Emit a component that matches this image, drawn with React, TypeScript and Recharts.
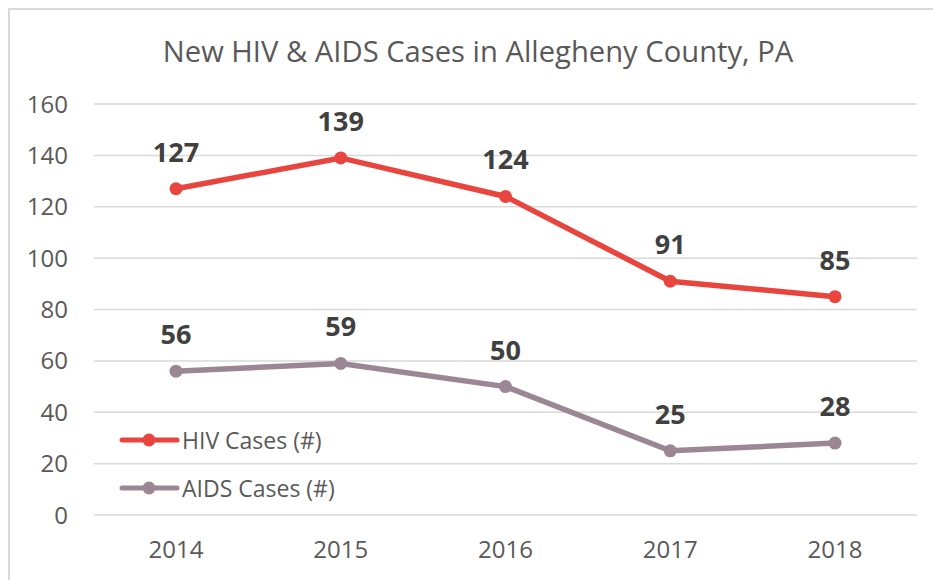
import React from "react";
import { LineChart, Line, XAxis, YAxis, CartesianGrid, LabelList } from "recharts";

const years = ["2014", "2015", "2016", "2017", "2018"];
const hivCases = [127, 139, 124, 91, 85];
const aidsCases = [56, 59, 50, 25, 28];
const yTicks = [0, 20, 40, 60, 80, 100, 120, 140, 160];
const seriesNames = ["HIV Cases (#)", "AIDS Cases (#)"];

const data = years.map((y, i) => ({ year: y, hiv: hivCases[i], aids: aidsCases[i] }));

const FONT = "'Open Sans', sans-serif";
const RED = "#E8453F";
const MAUVE = "#9B8793";
const seriesColors = [RED, MAUVE];

export default function App() {
  return (
    <div style={{ position: "absolute", left: 0, top: 0, width: 933, height: 580, background: "#fff" }}>
      <div
        style={{
          position: "absolute",
          left: 8,
          top: 8,
          right: 0,
          bottom: 0,
          borderLeft: "2px solid #D9D9D9",
          borderTop: "2px solid #D9D9D9",
        }}
      />
      <div
        style={{
          position: "absolute",
          left: 0,
          width: 956,
          top: 31,
          textAlign: "center",
          fontFamily: FONT,
          fontSize: 29.2,
          color: "#595959",
          lineHeight: "40px",
        }}
      >
        New HIV &amp; AIDS Cases in Allegheny County, PA
      </div>
      <div style={{ position: "absolute", left: 0, top: 0 }}>
        <LineChart width={933} height={580} data={data} margin={{ top: 104, right: 16, bottom: 0, left: 0 }}>
          <CartesianGrid vertical={false} stroke="#D9D9D9" strokeWidth={1.5} />
          <XAxis
            dataKey="year"
            scale="point"
            padding={{ left: 82, right: 82 }}
            axisLine={false}
            tickLine={false}
            tickSize={0}
            tickMargin={26}
            height={65}
            tick={{ fill: "#595959", fontSize: 24, fontFamily: FONT }}
          />
          <YAxis
            domain={[0, 160]}
            ticks={yTicks}
            interval={0}
            axisLine={false}
            tickLine={false}
            tickSize={0}
            tickMargin={26}
            width={94}
            tick={{ fill: "#595959", fontSize: 24, fontFamily: FONT }}
          />
          <Line
            type="linear"
            dataKey="hiv"
            name={seriesNames[0]}
            stroke={RED}
            strokeWidth={5.5}
            dot={{ r: 6.5, fill: RED, stroke: RED, strokeWidth: 0 }}
            activeDot={false}
            isAnimationActive={false}
          >
            <LabelList dataKey="hiv" position="top" offset={27} fill="#404040" fontSize={27} fontWeight="bold" fontFamily={FONT} />
          </Line>
          <Line
            type="linear"
            dataKey="aids"
            name={seriesNames[1]}
            stroke={MAUVE}
            strokeWidth={5.5}
            dot={{ r: 6.5, fill: MAUVE, stroke: MAUVE, strokeWidth: 0 }}
            activeDot={false}
            isAnimationActive={false}
          >
            <LabelList dataKey="aids" position="top" offset={27} fill="#404040" fontSize={27} fontWeight="bold" fontFamily={FONT} />
          </Line>
        </LineChart>
      </div>
      <div style={{ position: "absolute", left: 118, top: 416, fontFamily: FONT }}>
        {seriesNames.map((name, i) => (
          <div key={name} style={{ display: "flex", alignItems: "center", height: 48 }}>
            <svg width={62} height={14} style={{ marginRight: 2 }}>
              <line x1={4} y1={7} x2={59} y2={7} stroke={seriesColors[i]} strokeWidth={5} strokeLinecap="round" />
              <circle cx={31} cy={7} r={6.5} fill={seriesColors[i]} />
            </svg>
            <span style={{ fontSize: 23, color: "#595959" }}>{name}</span>
          </div>
        ))}
      </div>
    </div>
  );
}
